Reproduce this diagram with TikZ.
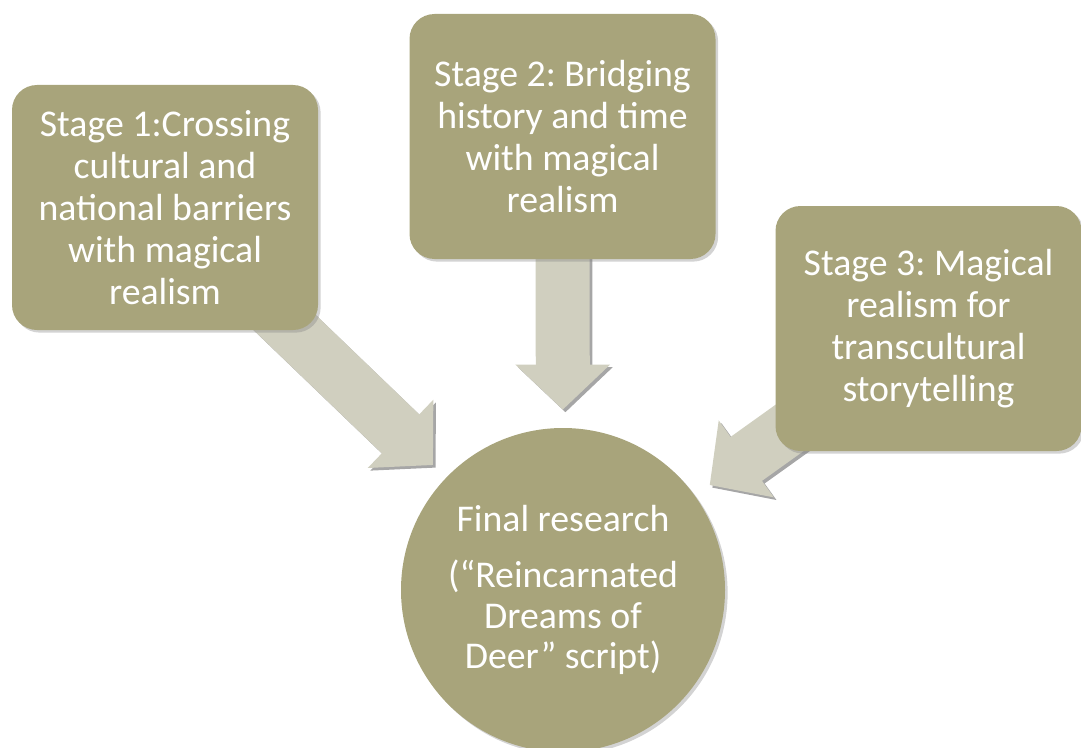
\documentclass[tikz,border=0pt]{standalone}
\usepackage{fontspec}
\setmainfont{Carlito}
\usetikzlibrary{arrows.meta, shadows, backgrounds}
\frenchspacing

\definecolor{stagefill}{RGB}{168,164,123}
\definecolor{arrowfill}{RGB}{208,207,191}

\tikzset{
    stagebox/.style={rounded corners=0.5cm, fill=stagefill, text=white, align=center,
        minimum width=6.12cm, minimum height=4.9cm, inner sep=0pt,
        font=\fontsize{21.5}{23.8}\selectfont,
        drop shadow={shadow xshift=1.5pt, shadow yshift=-1.5pt, opacity=0.35}},
    finalcircle/.style={circle, fill=stagefill, text=white, align=center,
        minimum size=6.48cm, inner sep=0pt,
        font=\fontsize{21.5}{23.3}\selectfont,
        drop shadow={shadow xshift=1.5pt, shadow yshift=-1.5pt, opacity=0.35}},
    flowarrow/.style={draw=arrowfill, line width=1.08cm,
        -{Triangle[length=0.9cm, width=1.84cm]}, shorten >=0.36cm},
    flowshadow/.style={flowarrow, draw=black!35,
        transform canvas={shift={(1.5pt,-1.5pt)}}}
}

\begin{document}
\begin{tikzpicture}
    \useasboundingbox (0,0) rectangle (21.62,14.94);

    % Stage boxes
    \node[stagebox] (stage1) at (3.30,10.79) {Stage 1:Crossing\\cultural and\\national barriers\\with magical\\realism};
    \node[stagebox] (stage2) at (11.25,12.21) {Stage 2: Bridging\\history and time\\with magical\\realism};
    \node[stagebox] (stage3) at (18.57,8.37) {Stage 3: Magical\\realism for\\transcultural\\storytelling};

    % Final research circle
    \node[finalcircle] (final) at (11.26,3.14) {Final research\\[0.3cm](“Reincarnated\\Dreams of\\Deer” script)};

    % Block arrows, behind the boxes
    \begin{pgfonlayer}{background}
        \draw[flowshadow] (stage1.center) -- (final);
        \draw[flowshadow] (stage2.center) -- (final);
        \draw[flowshadow] (stage3.center) -- (final);
        \draw[flowarrow] (stage1.center) -- (final);
        \draw[flowarrow] (stage2.center) -- (final);
        \draw[flowarrow] (stage3.center) -- (final);
    \end{pgfonlayer}
\end{tikzpicture}
\end{document}
